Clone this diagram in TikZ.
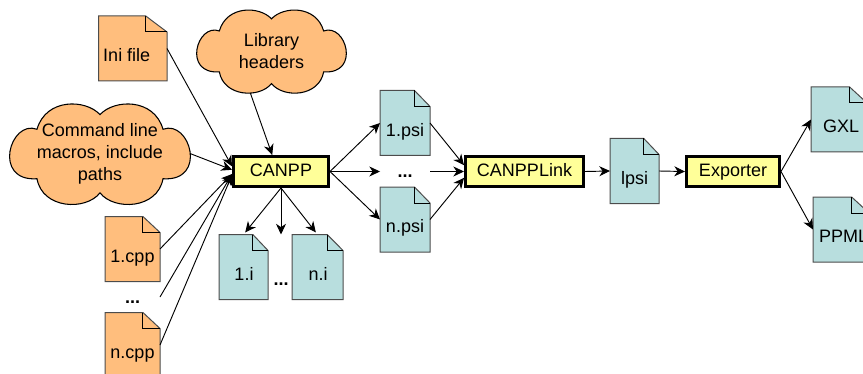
\documentclass[tikz,border=0pt]{standalone}
\usepackage{fontspec}
\setmainfont{Liberation Sans}
\usetikzlibrary{arrows.meta,calc,backgrounds}
\definecolor{srcorange}{RGB}{255,190,125}
\definecolor{outteal}{RGB}{184,222,222}
\definecolor{toolyellow}{RGB}{255,255,153}
\tikzstyle{tool} = [draw,line width=2.25pt,fill=toolyellow,inner sep=0pt,minimum height=30*0.75pt,text height=10.3pt,text depth=2.5pt]
\tikzstyle{filebox} = [inner sep=0pt,outer sep=0pt,minimum height=65*0.75pt]
\tikzstyle{filetext} = [text height=10pt,text depth=3pt]
\tikzstyle{cloudbox} = [inner sep=0pt,outer sep=0pt,align=center]
\tikzstyle{dotsbox} = [inner sep=0pt,outer sep=0pt]
\tikzstyle{flow} = [-{Stealth[length=8pt,width=7.5pt,inset=2.5pt]},line width=0.7pt]
% file with a folded corner: colour, name, position, width, text shift, text
\newcommand{\filedoc}[6]{
  \node[filebox,minimum width=#4*0.75pt,label={[filetext,xshift=#5*0.75pt,yshift=-8.5*0.75pt]center:#6}] (#2) at (#3) {};
  \begin{scope}[on background layer]
    \draw[fill=#1,draw=black!70,line width=0.75pt] (#2.north west) -- ($(#2.north east)+(-0.31*#4,0)$) -- ($(#2.north east)+(0,16)$) -- (#2.south east) -- (#2.south west) -- cycle;
    \draw[line width=0.75pt] ($(#2.north east)+(-0.31*#4,0)$) -- ($(#2.north east)+(-0.31*#4,16)$) -- ($(#2.north east)+(0,16)$);
  \end{scope}
}
% cloud outline over the box of a node: name, width, height
\newcommand{\cloudback}[3]{
  \begin{scope}[on background layer]
    \draw[fill=srcorange,line width=0.8pt,shift={(#1.north west)},x=#2*0.75pt,y=-#3*0.75pt]
      (.5,.115) .. controls (.58,-.04) and (.80,-.05) .. (.85,.26)
      .. controls (1.0,.16) and (1.1,.78) .. (.85,.75)
      .. controls (.82,1.05) and (.58,1.07) .. (.5,.89)
      .. controls (.42,1.07) and (.18,1.05) .. (.15,.75)
      .. controls (-.1,.78) and (0,.16) .. (.15,.26)
      .. controls (.20,-.05) and (.42,-.04) .. (.5,.115) -- cycle;
  \end{scope}
}
\begin{document}
\begin{tikzpicture}[x=0.75pt,y=-0.75pt,font=\fontsize{13.5}{16.5}\selectfont]
  \useasboundingbox (0,0) rectangle (863,374);
  % Sources
  \filedoc{srcorange}{ini}{132.75,48.5}{68.5}{-6}{Ini file}
  \filedoc{srcorange}{cppa}{132.5,249}{55}{0}{1.cpp}
  \filedoc{srcorange}{cppn}{132.5,345}{55}{0}{n.cpp}
  \node[dotsbox,minimum width=55*0.75pt,label={[yshift=-5*0.75pt]center:\textbf{...}}] (cppdots) at (132.5,297) {};
  \node[cloudbox,minimum width=149*0.75pt,minimum height=83.5*0.75pt] (libhdr) at (271.5,51) {Library\\headers};
  \cloudback{libhdr}{149}{83.5}
  \node[cloudbox,minimum width=180*0.75pt,minimum height=101*0.75pt] (cmdline) at (100,153.5) {Command line\\macros, include\\paths};
  \cloudback{cmdline}{180}{101}
  % Tools
  \node[tool,minimum width=95*0.75pt] (canpp) at (281,171.5) {CANPP};
  \node[tool,minimum width=118*0.75pt] (canpplink) at (524.5,171.5) {CANPPLink};
  \node[tool,minimum width=93*0.75pt] (exporter) at (733,171.5) {Exporter};
  % Outputs
  \filedoc{outteal}{ia}{243.5,267}{49}{0.5}{1.i}
  \filedoc{outteal}{in}{317.5,267}{51}{0.5}{n.i}
  \node[dotsbox,minimum width=24*0.75pt,minimum height=65*0.75pt,label={[yshift=-17*0.75pt]center:\textbf{...}}] (idots) at (281,267) {};
  \filedoc{outteal}{psia}{405,123}{50}{0}{1.psi}
  \filedoc{outteal}{psin}{405,219.5}{50}{0}{n.psi}
  \node[dotsbox,minimum width=50*0.75pt,label={[yshift=-4.5*0.75pt]center:\textbf{...}}] (psidots) at (405,171.5) {};
  \filedoc{outteal}{lpsi}{634.5,171}{49}{0}{lpsi}
  \filedoc{outteal}{gxl}{839,119.5}{56}{2}{GXL}
  \filedoc{outteal}{ppml}{841,229.5}{56}{2.5}{PPML}
  % Into CANPP
  \draw[flow] (ini.east) -- (canpp.174);
  \draw[flow] (libhdr.-117) -- (canpp.118);
  \draw[flow] (cmdline.east) -- (canpp.178);
  \draw[flow] (cppa.east) -- (canpp.183);
  \draw[flow] (cppdots.east) -- (canpp.183);
  \draw[flow] (cppn.east) -- (canpp.184);
  % Out of CANPP
  \draw[flow,shorten >=2pt] (canpp.south) -- (ia.north);
  \draw[flow] (canpp.south) -- (idots.north);
  \draw[flow,shorten >=2pt] (canpp.south) -- (in.north);
  \draw[flow] (canpp.east) -- (psia.west);
  \draw[flow] (canpp.east) -- (psidots.west);
  \draw[flow] (canpp.east) -- (psin.west);
  % Link and export
  \draw[flow] (psia.east) -- (canpplink.174);
  \draw[flow] (psidots.east) -- (canpplink.west);
  \draw[flow] (psin.east) -- (canpplink.186);
  \draw[flow] (canpplink.east) -- (lpsi.west);
  \draw[flow] (lpsi.east) -- (exporter.west);
  \draw[flow] (exporter.east) -- (gxl.west);
  \draw[flow] (exporter.east) -- (ppml.west);
\end{tikzpicture}
\end{document}
